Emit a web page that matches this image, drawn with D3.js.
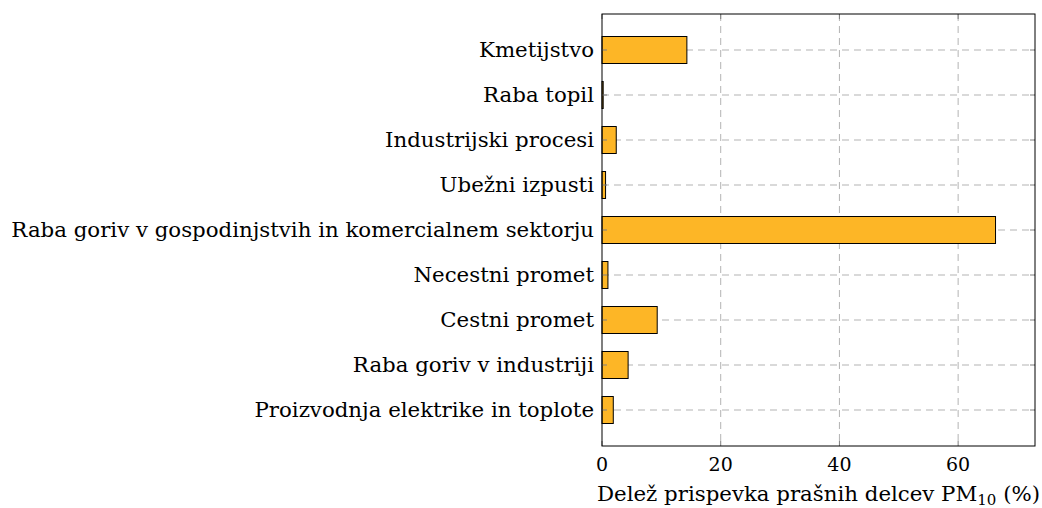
<!DOCTYPE html>
<meta charset="utf-8">
<script src="https://d3js.org/d3.v7.min.js"></script>
<style>
  body { margin: 0; background: #fff; }
  text { font-family: "DejaVu Serif", serif; fill: #000; }
</style>
<div id="chart"></div>
<script>
  // data (top to bottom)
  var sectors = ["Kmetijstvo", "Raba topil", "Industrijski procesi", "Ubežni izpusti",
    "Raba goriv v gospodinjstvih in komercialnem sektorju", "Necestni promet",
    "Cestni promet", "Raba goriv v industriji", "Proizvodnja elektrike in toplote"];
  var shares = [14.3, 0.2, 2.4, 0.6, 66.3, 1.0, 9.3, 4.4, 1.9];
  var xTicks = [0, 20, 40, 60];

  var W = 1042, H = 508;
  var margin = { top: 14, right: 7, bottom: 62, left: 602 };
  var width = W - margin.left - margin.right,
    height = H - margin.top - margin.bottom;

  var svg = d3.select("#chart").append("svg")
    .attr("width", W).attr("height", H)
    .append("g")
    .attr("transform", "translate(" + margin.left + "," + margin.top + ")");

  var x = d3.scaleLinear().domain([0, 72.95]).range([0, width]);
  var y = d3.scaleLinear().domain([-0.8, sectors.length - 1 + 0.8]).range([0, height]);
  var barH = 27;

  // grid lines
  svg.selectAll(".vgrid").data(xTicks.slice(1)).enter().append("line")
    .attr("x1", function (d) { return x(d); }).attr("x2", function (d) { return x(d); })
    .attr("y1", 0).attr("y2", height)
    .attr("stroke", "#b3b3b3").attr("stroke-width", 1).attr("stroke-dasharray", "7,5");
  svg.selectAll(".hgrid").data(sectors).enter().append("line")
    .attr("x1", 0).attr("x2", width)
    .attr("y1", function (d, i) { return y(i); }).attr("y2", function (d, i) { return y(i); })
    .attr("stroke", "#b3b3b3").attr("stroke-width", 1).attr("stroke-dasharray", "7,5");

  // bars
  svg.selectAll(".bar").data(shares).enter().append("rect")
    .attr("x", x(0))
    .attr("y", function (d, i) { return y(i) - barH / 2; })
    .attr("width", function (d) { return x(d) - x(0); })
    .attr("height", barH)
    .attr("fill", "#fdb626")
    .attr("stroke", "#000").attr("stroke-width", 1);

  // tick marks (inside, both sides)
  xTicks.forEach(function (t) {
    svg.append("line").attr("x1", x(t)).attr("x2", x(t)).attr("y1", height).attr("y2", height - 5)
      .attr("stroke", "#7f7f7f");
    svg.append("line").attr("x1", x(t)).attr("x2", x(t)).attr("y1", 0).attr("y2", 5)
      .attr("stroke", "#7f7f7f");
  });
  sectors.forEach(function (s, i) {
    svg.append("line").attr("x1", 0).attr("x2", 5).attr("y1", y(i)).attr("y2", y(i))
      .attr("stroke", "#7f7f7f");
    svg.append("line").attr("x1", width).attr("x2", width - 5).attr("y1", y(i)).attr("y2", y(i))
      .attr("stroke", "#7f7f7f");
  });

  // frame
  svg.append("rect").attr("x", 0).attr("y", 0).attr("width", width).attr("height", height)
    .attr("fill", "none").attr("stroke", "#000").attr("stroke-width", 1);

  // labels
  svg.selectAll(".ylab").data(sectors).enter().append("text")
    .attr("x", -8).attr("y", function (d, i) { return y(i); })
    .attr("dy", "0.35em").attr("text-anchor", "end")
    .style("font-size", "21.3px")
    .text(function (d) { return d; });

  svg.selectAll(".xlab").data(xTicks).enter().append("text")
    .attr("x", function (d) { return x(d); }).attr("y", height + 24.5)
    .attr("text-anchor", "middle")
    .style("font-size", "19px")
    .text(function (d) { return d; });

  var title = svg.append("text")
    .attr("x", width / 2).attr("y", height + 55)
    .attr("text-anchor", "middle")
    .style("font-size", "21.3px");
  title.append("tspan").text("Delež prispevka prašnih delcev PM");
  title.append("tspan").attr("dy", 4).style("font-size", "15px").text("10");
  title.append("tspan").attr("dy", -4).text(" (%)");
</script>
